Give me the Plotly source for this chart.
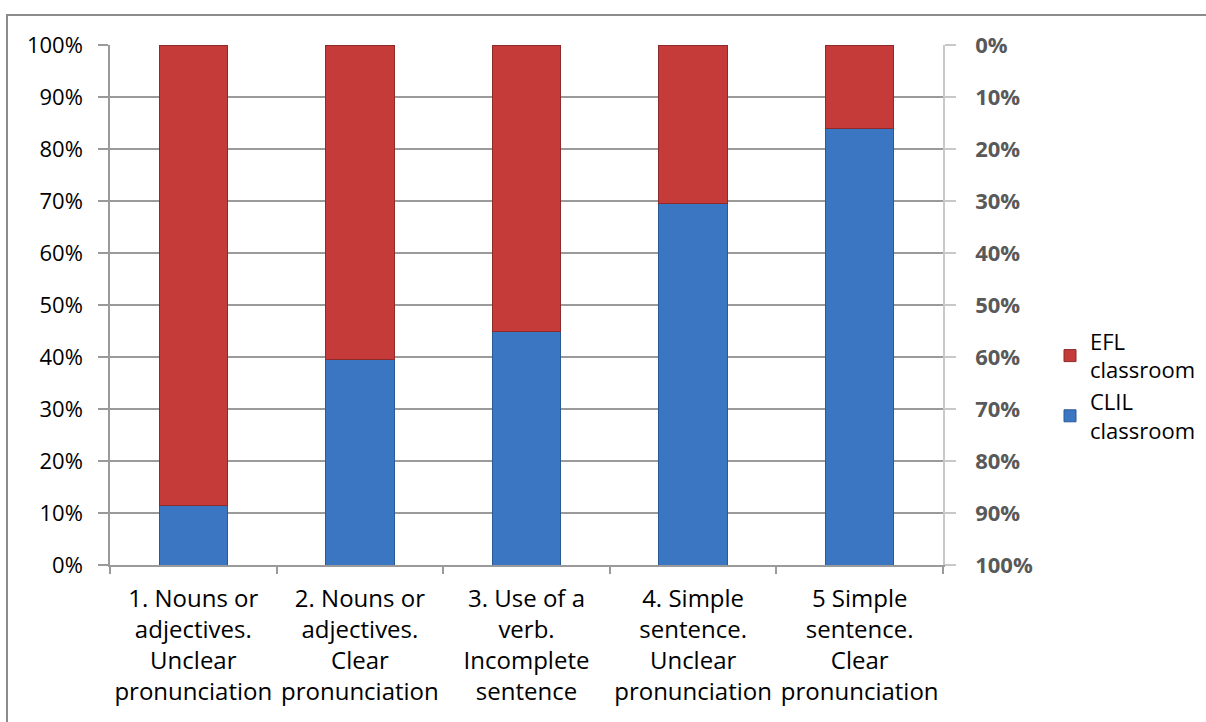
import plotly.graph_objects as go

categories = [
    "1. Nouns or<br>adjectives.<br>Unclear<br>pronunciation",
    "2. Nouns or<br>adjectives.<br>Clear<br>pronunciation",
    "3. Use of a<br>verb.<br>Incomplete<br>sentence",
    "4. Simple<br>sentence.<br>Unclear<br>pronunciation",
    "5 Simple<br>sentence.<br>Clear<br>pronunciation",
]
clil_share = [11.5, 39.5, 45.0, 69.5, 84.0]
efl_share = [100 - v for v in clil_share]
left_ticks = list(range(0, 101, 10))
right_ticks = list(range(0, 101, 10))

FONT = "Open Sans"
W, H = 1206, 722
L, R, T, B = 110, 263, 45, 157
plot_w = W - L - R
plot_h = H - T - B

fig = go.Figure()
fig.add_trace(go.Bar(
    x=categories, y=clil_share, name="CLIL<br>classroom",
    marker=dict(color="#3A76C2", line=dict(color="#2A5A94", width=1)),
))
fig.add_trace(go.Bar(
    x=categories, y=efl_share, name="EFL<br>classroom",
    marker=dict(color="#C43B3A", line=dict(color="#8E2A29", width=1)),
))
# EFL share measured from the top, carried on the secondary (reversed) axis
fig.add_trace(go.Scatter(
    x=categories, y=efl_share, yaxis="y2", mode="none",
    showlegend=False, hoverinfo="skip",
))

# outer chart frame
fig.add_shape(
    type="rect", xref="paper", yref="paper",
    x0=(7 - L) / plot_w, x1=(1212 - L) / plot_w,
    y0=(H - B - 730) / plot_h, y1=(H - B - 15) / plot_h,
    line=dict(color="#8C8C8C", width=2), fillcolor="rgba(0,0,0,0)", layer="below",
)

fig.update_layout(
    width=W, height=H,
    margin=dict(l=L, r=R, t=T, b=B, pad=0, autoexpand=False),
    barmode="stack", bargap=0.59,
    plot_bgcolor="white", paper_bgcolor="white",
    font=dict(family=FONT, size=23, color="black"),
    showlegend=True,
    legend=dict(
        x=(1050 - L) / plot_w, xanchor="left",
        y=(H - B - 386) / plot_h, yanchor="middle",
        traceorder="reversed", font=dict(size=22, family=FONT, color="black"),
        itemwidth=30, tracegroupgap=8, bgcolor="rgba(0,0,0,0)",
    ),
    xaxis=dict(
        showline=True, linecolor="#9A9A9A", linewidth=1.5,
        ticks="outside", ticklen=7, tickcolor="#9A9A9A", tickwidth=1.5,
        tickson="boundaries", showgrid=False, tickangle=0, automargin=False,
        ticklabelstandoff=11,
        tickfont=dict(size=24, family=FONT, color="black"),
    ),
    yaxis=dict(
        range=[0, 100], tickvals=left_ticks,
        ticktext=[f"{v}%" for v in left_ticks],
        showline=True, linecolor="#9A9A9A", linewidth=1.5,
        ticks="outside", ticklen=10, tickcolor="#9A9A9A", tickwidth=1.5,
        showgrid=True, gridcolor="#9A9A9A", gridwidth=1.5,
        ticklabelstandoff=11, automargin=False,
        tickfont=dict(size=22, family=FONT, color="black"),
        zeroline=False,
    ),
    yaxis2=dict(
        overlaying="y", side="right", anchor="x",
        range=[100, 0], tickvals=right_ticks,
        ticktext=[f"{v}%" for v in right_ticks],
        showline=True, linecolor="#C8C8C8", linewidth=1.5,
        ticks="outside", ticklen=11, tickcolor="#C8C8C8", tickwidth=1.5,
        showgrid=False, zeroline=False, automargin=False,
        ticklabelstandoff=15,
        tickfont=dict(size=22, family=FONT, color="#595959", weight="bold"),
    ),
)

fig.write_html("out.html")
